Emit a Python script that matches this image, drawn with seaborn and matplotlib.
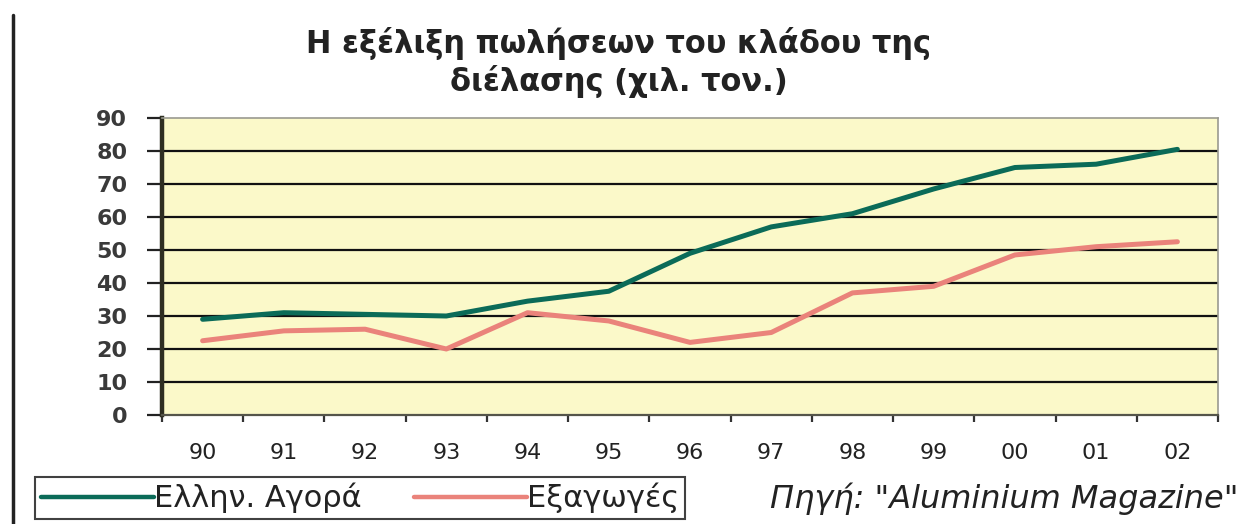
import matplotlib
matplotlib.use("Agg")
import matplotlib.pyplot as plt
from matplotlib.lines import Line2D
import numpy as np
import pandas as pd
import seaborn as sns

# Years (two-digit labels) and sales in thousand tonnes
years = ["90", "91", "92", "93", "94", "95", "96", "97", "98", "99", "00", "01", "02"]
domestic = [29, 31, 30.5, 30, 34.5, 37.5, 49, 57, 61, 68.5, 75, 76, 80.5]
exports = [22.5, 25.5, 26, 20, 31, 28.5, 22, 25, 37, 39, 48.5, 51, 52.5]
series_names = ["Ελλην. Αγορά", "Εξαγωγές"]
y_ticks = [0, 10, 20, 30, 40, 50, 60, 70, 80, 90]

title_lines = ["Η εξέλιξη πωλήσεων του κλάδου της", "διέλασης (χιλ. τον.)"]
source_text = "Πηγή: \"Aluminium Magazine\""

green = "#0b6b58"
salmon = "#ea837b"
panel = "#fbf9c9"

df = pd.DataFrame({
    "year": years * 2,
    "value": domestic + exports,
    "series": [series_names[0]] * len(years) + [series_names[1]] * len(years),
})

sns.set_style("white")
plt.rcParams["font.family"] = ["DejaVu Sans"]

W, H = 1258, 524
fig = plt.figure(figsize=(W / 100, H / 100), dpi=100)
fig.patch.set_facecolor("white")
ax = fig.add_axes([162 / W, 1 - 415 / H, (1218 - 162) / W, (415 - 118) / H])
ax.set_facecolor(panel)

sns.lineplot(data=df, x="year", y="value", hue="series",
             palette={series_names[0]: green, series_names[1]: salmon},
             linewidth=3.6, sort=False, ax=ax, legend=False, zorder=3)

ax.set_xlim(-0.5, len(years) - 0.5)
ax.set_ylim(0, 90)
ax.set_xlabel("")
ax.set_ylabel("")

# horizontal gridlines
for v in y_ticks[1:-1]:
    ax.axhline(v, color="#111111", linewidth=1.6, zorder=1)

ax.set_yticks(y_ticks)
ax.set_yticklabels([str(t) for t in y_ticks], fontsize=16, fontweight="bold", color="#3a3a3a")
ax.tick_params(axis="y", direction="out", length=11, width=1.6, color="#222222", pad=14, left=True)

ax.set_xticks(range(len(years)))
ax.set_xticklabels(years, fontsize=16, color="#222222")
ax.set_xticks(np.arange(-0.5, len(years)), minor=True)
ax.tick_params(axis="x", which="major", length=0, pad=20)
ax.tick_params(axis="x", which="minor", direction="out", length=5, width=1.6, color="#333333", bottom=True)

for side in ["top", "right"]:
    ax.spines[side].set_color("#9a9a90")
    ax.spines[side].set_linewidth(1.2)
ax.spines["bottom"].set_color("#55554a")
ax.spines["bottom"].set_linewidth(1.6)
ax.spines["left"].set_color("#2e2e22")
ax.spines["left"].set_linewidth(3.2)

# title
fig.text(619 / W, 1 - 44 / H, title_lines[0], ha="center", va="center",
         fontsize=22, fontweight="bold", color="#222222")
fig.text(619 / W, 1 - 81 / H, title_lines[1], ha="center", va="center",
         fontsize=22, fontweight="bold", color="#222222")

# legend
handles = [Line2D([], [], color=green, linewidth=3.2),
           Line2D([], [], color=salmon, linewidth=3.2)]
leg = fig.legend(handles, series_names, loc="center left",
                 bbox_to_anchor=(35 / W, 1 - 498 / H), ncol=2,
                 fontsize=22, handlelength=3.7, handletextpad=0.0,
                 columnspacing=1.7, borderpad=0.2, borderaxespad=0,
                 frameon=True, fancybox=False)
leg.get_frame().set_edgecolor("#111111")
leg.get_frame().set_linewidth(1.5)
for t in leg.get_texts():
    t.set_color("#222222")

fig.text(1004 / W, 1 - 499 / H, source_text, ha="center", va="center",
         fontsize=23, style="italic", color="#222222")

# outer frame edge on the left
fig.add_artist(Line2D([13 / W, 13 / W], [0, 1 - 15 / H], transform=fig.transFigure,
                      color="#222222", linewidth=2.5))

fig.savefig("out.png", dpi=100)
